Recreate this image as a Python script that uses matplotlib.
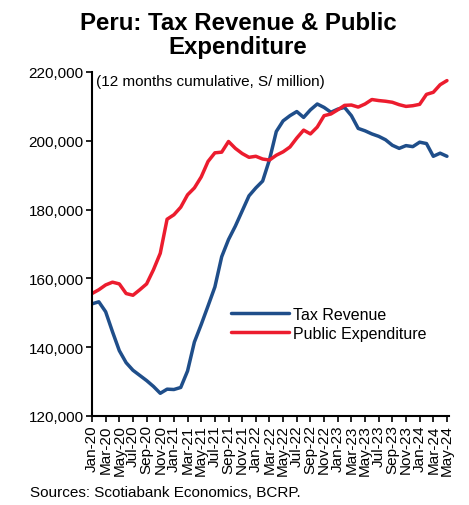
import matplotlib
matplotlib.use("Agg")
import matplotlib.pyplot as plt
import numpy as np

plt.rcParams['font.family'] = ['Liberation Sans', 'DejaVu Sans']

months = ["Jan-20", "Feb-20", "Mar-20", "Apr-20", "May-20", "Jun-20", "Jul-20", "Aug-20", "Sep-20", "Oct-20", "Nov-20", "Dec-20",
          "Jan-21", "Feb-21", "Mar-21", "Apr-21", "May-21", "Jun-21", "Jul-21", "Aug-21", "Sep-21", "Oct-21", "Nov-21", "Dec-21",
          "Jan-22", "Feb-22", "Mar-22", "Apr-22", "May-22", "Jun-22", "Jul-22", "Aug-22", "Sep-22", "Oct-22", "Nov-22", "Dec-22",
          "Jan-23", "Feb-23", "Mar-23", "Apr-23", "May-23", "Jun-23", "Jul-23", "Aug-23", "Sep-23", "Oct-23", "Nov-23", "Dec-23",
          "Jan-24", "Feb-24", "Mar-24", "Apr-24", "May-24"]

tax_revenue = [152600, 153200, 150300, 144500, 139000, 135500, 133300, 131800, 130300, 128600, 126600, 127800,
               127700, 128300, 133100, 141500, 146600, 152000, 157500, 166300, 171300, 175200, 179600, 184000,
               186300, 188300, 194500, 202700, 205800, 207300, 208500, 206800, 209000, 210700, 209700, 208300,
               209200, 209700, 207300, 203600, 202900, 202000, 201300, 200300, 198700, 197800, 198600, 198300,
               199600, 199200, 195500, 196400, 195500]

public_expenditure = [155600, 156700, 158100, 158900, 158400, 155600, 155100, 156700, 158400, 162500, 167300, 177200,
                      178500, 180700, 184300, 186300, 189500, 194000, 196500, 196700, 199800, 197800, 196300, 195200,
                      195500, 194700, 194400, 195800, 196800, 198200, 200800, 203100, 202000, 204000, 207300, 207800,
                      209000, 210300, 210400, 209800, 210700, 212000, 211700, 211500, 211200, 210500, 210000, 210200,
                      210600, 213500, 214100, 216300, 217500]

y_ticks = [120000, 140000, 160000, 180000, 200000, 220000]

blue = "#1F4E8A"
red = "#EC1C2E"

fig = plt.figure(figsize=(4.69, 5.06), dpi=100)
ax = fig.add_axes([92/469, 1-417/506, (449-92)/469, (417-73)/506])

x = np.arange(len(months))
ax.plot(x, tax_revenue, color=blue, lw=2.5, label="Tax Revenue", solid_capstyle='round')
ax.plot(x, public_expenditure, color=red, lw=2.5, label="Public Expenditure", solid_capstyle='round')

ax.set_xlim(0, len(months) - 1 + 0.3)
ax.set_ylim(120000, 220000)
ax.set_yticks(y_ticks)
ax.set_yticklabels([f"{v:,}" for v in y_ticks], fontsize=11)
ax.set_xticks(x[::2])
ax.set_xticklabels(months[::2], rotation=90, fontsize=11)
ax.tick_params(axis='both', direction='out', length=4, width=1.2, colors='black', pad=2)
for s in ['top', 'right']:
    ax.spines[s].set_visible(False)
for s in ['left', 'bottom']:
    ax.spines[s].set_linewidth(1.5)

ax.text(0.012, 0.995, "(12 months cumulative, S/ million)", transform=ax.transAxes,
        fontsize=11, va='top', ha='left')

leg = ax.legend(loc='upper left', bbox_to_anchor=((231-92)/357, 1-(308-73)/344), frameon=False,
                fontsize=11.5, handlelength=3.6, handletextpad=0.3, labelspacing=0.25, borderpad=0, borderaxespad=0)

fig.text(238/469, 1-12/506, "Peru: Tax Revenue & Public\nExpenditure", ha='center', va='top',
         fontsize=17.3, fontweight='bold', linespacing=1.05)
fig.text(30/469, 1-493/506, "Sources: Scotiabank Economics, BCRP.", ha='left', va='center', fontsize=11)

fig.savefig("out.png", dpi=100)
